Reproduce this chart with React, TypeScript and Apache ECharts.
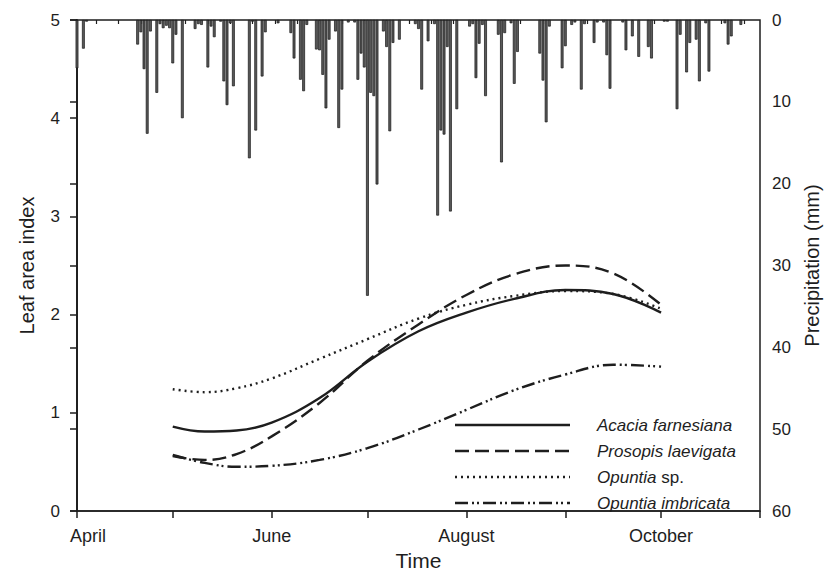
import React, { useEffect, useRef } from "react";
import * as echarts from "echarts";

// Days since 1 April
const curveDays = [30, 40, 50, 61, 76, 91, 107, 122, 137, 153, 168, 183];
const acacia = [0.86, 0.81, 0.82, 0.9, 1.15, 1.52, 1.83, 2.02, 2.16, 2.25, 2.21, 2.02];
const prosopis = [0.56, 0.52, 0.58, 0.76, 1.1, 1.53, 1.9, 2.2, 2.41, 2.5, 2.42, 2.1];
const opuntiaSp = [1.24, 1.21, 1.25, 1.35, 1.55, 1.75, 1.96, 2.1, 2.19, 2.24, 2.21, 2.06];
const opuntiaImb = [0.57, 0.49, 0.45, 0.46, 0.52, 0.64, 0.83, 1.03, 1.23, 1.39, 1.49, 1.47];

const rainDays = [0, 2, 3, 19, 20, 21, 22, 23, 25, 26, 27, 28, 29, 30, 31, 33, 37, 38, 39, 41, 42, 43, 45, 46, 47, 48, 49, 54, 55, 56, 58, 59, 63, 67, 68, 70, 71, 72, 75, 76, 77, 78, 79, 81, 82, 83, 85, 87, 88, 89, 90, 91, 92, 93, 94, 96, 97, 98, 99, 101, 106, 107, 108, 110, 112, 113, 114, 115, 116, 117, 119, 123, 124, 125, 126, 127, 128, 132, 133, 134, 136, 137, 138, 145, 146, 147, 148, 152, 153, 155, 156, 158, 159, 162, 163, 165, 166, 167, 171, 172, 174, 176, 179, 180, 184, 185, 188, 189, 191, 192, 194, 195, 197, 198, 203, 204, 205, 208];
const rainMm = [5.9, 3.5, 0.2, 3.0, 1.5, 6.0, 13.9, 1.4, 8.9, 0.5, 1.0, 0.7, 1.0, 5.3, 1.8, 12.0, 1.1, 0.5, 0.6, 5.8, 0.8, 2.1, 0.2, 7.5, 10.4, 0.4, 8.1, 16.9, 0.2, 13.5, 6.9, 1.5, 0.4, 1.6, 4.7, 7.3, 8.7, 0.6, 3.6, 3.7, 6.7, 10.8, 2.4, 1.4, 13.2, 8.5, 0.3, 0.3, 7.3, 4.1, 5.8, 33.7, 8.9, 9.3, 20.1, 1.4, 3.3, 13.6, 2.8, 2.4, 0.5, 1.1, 8.5, 2.6, 0.5, 23.9, 13.5, 14.0, 3.3, 23.4, 10.9, 0.8, 0.5, 7.1, 2.9, 0.6, 9.3, 1.8, 17.4, 1.6, 0.4, 7.8, 3.9, 4.1, 7.4, 12.5, 0.8, 5.9, 3.2, 0.6, 0.3, 8.5, 0.5, 2.8, 0.3, 0.3, 4.3, 8.4, 0.3, 3.7, 2.0, 4.5, 3.3, 4.7, 0.2, 0.2, 10.9, 1.8, 6.4, 2.8, 2.4, 7.5, 0.4, 6.3, 0.4, 3.0, 2.0, 0.6];

const monthTicks = [0, 30, 61, 91, 122, 153, 183, 214];
const weekTicks = [6, 13, 20, 27, 34, 41, 48, 55, 62, 69, 76, 83, 90, 97, 104, 111, 118, 125, 132, 139, 146, 153, 160, 167, 174, 181, 188, 195, 202, 209];
const monthLabelDays = [0, 61, 122, 183];
const monthLabels = ["April", "June", "August", "October"];

const seriesNames = ["Acacia farnesiana", "Prosopis laevigata", "Opuntia sp.", "Opuntia imbricata"];
const legendTexts = ["{i|Acacia farnesiana}", "{i|Prosopis laevigata}", "{i|Opuntia} {n|sp.}", "{i|Opuntia imbricata}"];
const dashes: (number[] | null)[] = [null, [14, 6], [2, 4], [13, 4, 2, 3, 2, 4]];

const FONT = "Liberation Sans, Arial, sans-serif";
const INK = "#1e1e1e";

export default function App() {
  const ref = useRef<HTMLDivElement>(null);
  useEffect(() => {
    if (!ref.current) return;
    const chart = echarts.init(ref.current, undefined, { renderer: "svg" });
    const pair = (xs: number[], ys: number[]) => xs.map((x, i) => [x, ys[i]]);
    const lineSeries = (name: string, ys: number[], dash: number[] | null) => ({
      name,
      type: "line",
      xAxisIndex: 0,
      yAxisIndex: 0,
      smooth: 0.4,
      symbol: "none",
      data: pair(curveDays, ys),
      lineStyle: { color: INK, width: 2.4, type: dash ? dash : "solid", cap: "butt" },
      itemStyle: { color: INK },
      z: 5,
    });
    const richStyles = {
      i: { fontStyle: "italic", fontSize: 17, fill: INK, fontFamily: FONT },
      n: { fontSize: 17, fill: INK, fontFamily: FONT },
    };
    const legendGraphics: any[] = [];
    seriesNames.forEach((_, k) => {
      const y = 425 + k * 26;
      legendGraphics.push({
        type: "line",
        shape: { x1: 455, y1: y, x2: 570, y2: y },
        style: { stroke: INK, lineWidth: 2.4, lineDash: dashes[k] || undefined },
        z: 10,
      });
      legendGraphics.push({
        type: "text",
        x: 597,
        y: y,
        style: {
          text: legendTexts[k],
          rich: richStyles,
          verticalAlign: "middle",
          align: "left",
          fontSize: 17,
          fontFamily: FONT,
          fill: INK,
        },
        z: 10,
      });
    });
    chart.setOption({
      animation: false,
      backgroundColor: "#fff",
      textStyle: { fontFamily: FONT },
      grid: {
        left: 77,
        right: 75,
        top: 20,
        bottom: 58,
        containLabel: false,
        outerBoundsMode: "none",
        show: true,
        borderColor: INK,
        borderWidth: 1.5,
        backgroundColor: "transparent",
      },
      graphic: legendGraphics,
      xAxis: [
        {
          type: "value",
          min: 0,
          max: 214,
          position: "bottom",
          name: "Time",
          nameLocation: "middle",
          nameGap: 27,
          nameTextStyle: { fontSize: 21, lineHeight: 21, color: INK, fontFamily: FONT },
          axisLine: { show: true, lineStyle: { color: INK, width: 1.5 } },
          axisTick: { show: true, customValues: monthTicks, length: 7, lineStyle: { color: INK, width: 1.5 } },
          axisLabel: {
            customValues: monthLabelDays,
            margin: 16,
            fontSize: 18,
            color: INK,
            fontFamily: FONT,
            formatter: (v: number) => {
              const i = monthLabelDays.indexOf(Math.round(v));
              if (i < 0) return "";
              return i === 0 ? "{p|" + monthLabels[i] + "}" : "{m|" + monthLabels[i] + "}";
            },
            rich: {
              p: { fontSize: 18, color: INK, fontFamily: FONT, padding: [0, 0, 0, 22] },
              m: { fontSize: 18, color: INK, fontFamily: FONT },
            },
          },
          splitLine: { show: false },
        },
        {
          type: "value",
          min: 0,
          max: 214,
          position: "bottom",
          axisLine: { show: false },
          axisTick: { show: true, customValues: weekTicks, length: 4, lineStyle: { color: INK, width: 1.2 } },
          axisLabel: { show: false },
          splitLine: { show: false },
        },
      ],
      yAxis: [
        {
          type: "value",
          min: 0,
          max: 5,
          interval: 1,
          position: "left",
          name: "Leaf area index",
          nameLocation: "middle",
          nameGap: 40,
          nameTextStyle: { fontSize: 20, color: INK, fontFamily: FONT },
          axisLine: { show: true, lineStyle: { color: INK, width: 1.5 } },
          axisTick: { show: true, length: 7, lineStyle: { color: INK, width: 1.5 } },
          axisLabel: { margin: 17, fontSize: 17, color: INK, fontFamily: FONT },
          splitLine: { show: false },
        },
        {
          type: "value",
          min: 0,
          max: 60,
          interval: 10,
          inverse: true,
          position: "right",
          name: "Precipitation (mm)",
          nameLocation: "middle",
          nameGap: 42,
          nameRotate: 90,
          nameTextStyle: { fontSize: 20, color: INK, fontFamily: FONT },
          axisLine: { show: true, lineStyle: { color: INK, width: 1.5 } },
          axisTick: { show: false },
          axisLabel: { margin: 12, fontSize: 17, color: INK, fontFamily: FONT },
          splitLine: { show: false },
        },
        {
          type: "value",
          min: 0,
          max: 60,
          interval: 10,
          inverse: true,
          position: "left",
          axisLine: { show: false },
          axisTick: { show: true, length: 7, lineStyle: { color: INK, width: 1.5 } },
          axisLabel: { show: false },
          splitLine: { show: false },
        },
      ],
      series: [
        {
          name: "Precipitation",
          type: "bar",
          xAxisIndex: 0,
          yAxisIndex: 1,
          barWidth: 2.8,
          data: pair(rainDays, rainMm),
          itemStyle: { color: "#5a5a5a", borderColor: "#151515", borderWidth: 0.7 },
          z: 2,
        },
        lineSeries(seriesNames[0], acacia, dashes[0]),
        lineSeries(seriesNames[1], prosopis, dashes[1]),
        lineSeries(seriesNames[2], opuntiaSp, dashes[2]),
        lineSeries(seriesNames[3], opuntiaImb, dashes[3]),
      ],
    });
    return () => chart.dispose();
  }, []);
  return <div ref={ref} style={{ width: 835, height: 569, position: "absolute", left: 0, top: 0 }} />;
}
